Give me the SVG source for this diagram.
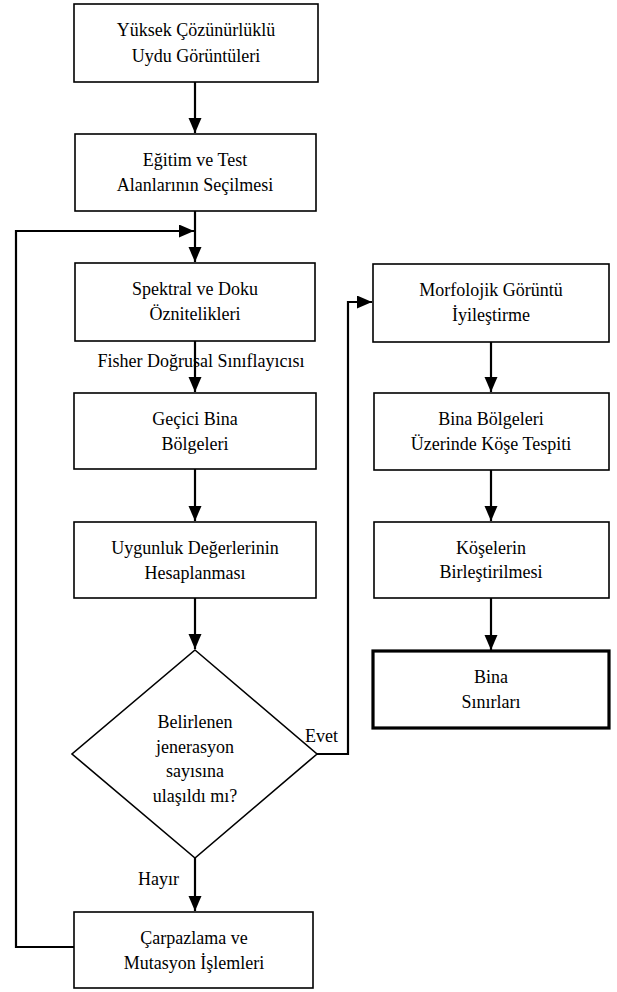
<svg xmlns="http://www.w3.org/2000/svg" width="617" height="992" viewBox="0 0 617 992">
<style>
.box{fill:#fff;stroke:#000;stroke-width:1.6}
.thick{fill:#fff;stroke:#000;stroke-width:3.2}
text{font-family:"Liberation Serif","Times New Roman",serif;font-size:18px;fill:#000}
.t{text-anchor:middle}
.c{fill:none;stroke:#000;stroke-width:2.2}
</style>
<defs>
<marker id="ah" markerUnits="userSpaceOnUse" markerWidth="16" markerHeight="14" refX="15" refY="6.5" orient="auto">
<path d="M0,0 L15,6.5 L0,13 z" fill="#000"/>
</marker>
</defs>
<rect width="617" height="992" fill="#fff"/>
<g id="connectors">
<path class="c" d="M195,82 V133" marker-end="url(#ah)"/>
<path class="c" d="M195,211 V262" marker-end="url(#ah)"/>
<path class="c" d="M74,947 H16 V231 H194" marker-end="url(#ah)"/>
<path class="c" d="M195,341 V392" marker-end="url(#ah)"/>
<path class="c" d="M195,469 V521" marker-end="url(#ah)"/>
<path class="c" d="M195,598 V649" marker-end="url(#ah)"/>
<path class="c" d="M195,858 V911" marker-end="url(#ah)"/>
<path class="c" d="M317,754 H348 V302 H372" marker-end="url(#ah)"/>
<path class="c" d="M491,342 V392" marker-end="url(#ah)"/>
<path class="c" d="M491,470 V521" marker-end="url(#ah)"/>
<path class="c" d="M491,598 V650" marker-end="url(#ah)"/>
<text class="t" x="201" y="367">Fisher Doğrusal Sınıflayıcısı</text>
<text x="305" y="742">Evet</text>
<text x="138" y="885">Hayır</text>
</g>
<g id="n1"><rect class="box" x="74" y="4" width="244" height="78"/><text class="t" x="196" y="36">Yüksek Çözünürlüklü</text><text class="t" x="196" y="62">Uydu Görüntüleri</text></g>
<g id="n2"><rect class="box" x="75" y="134" width="241" height="77"/><text class="t" x="195" y="166">Eğitim ve Test</text><text class="t" x="195" y="191">Alanlarının Seçilmesi</text></g>
<g id="n3"><rect class="box" x="75" y="263" width="240" height="78"/><text class="t" x="195" y="295">Spektral ve Doku</text><text class="t" x="195" y="320">Öznitelikleri</text></g>
<g id="n4"><rect class="box" x="74" y="393" width="242" height="76"/><text class="t" x="195" y="424.5">Geçici Bina</text><text class="t" x="195" y="449.5">Bölgeleri</text></g>
<g id="n5"><rect class="box" x="74" y="522" width="242" height="76"/><text class="t" x="195" y="553.5">Uygunluk Değerlerinin</text><text class="t" x="195" y="578.5">Hesaplanması</text></g>
<g id="n6"><polygon class="box" points="195,650 317,754 195,858 72,754"/><text class="t" x="195" y="728">Belirlenen</text><text class="t" x="195" y="752.7">jenerasyon</text><text class="t" x="195" y="777.4">sayısına</text><text class="t" x="195" y="802">ulaşıldı mı?</text></g>
<g id="n7"><rect class="box" x="74" y="912" width="239" height="76"/><text class="t" x="194" y="943.5">Çarpazlama ve</text><text class="t" x="194" y="968.5">Mutasyon İşlemleri</text></g>
<g id="n8"><rect class="box" x="373" y="264" width="236" height="78"/><text class="t" x="491" y="296">Morfolojik Görüntü</text><text class="t" x="491" y="321">İyileştirme</text></g>
<g id="n9"><rect class="box" x="374" y="393" width="235" height="77"/><text class="t" x="491" y="425">Bina Bölgeleri</text><text class="t" x="491" y="450">Üzerinde Köşe Tespiti</text></g>
<g id="n10"><rect class="box" x="374" y="522" width="235" height="76"/><text class="t" x="491" y="553.5">Köşelerin</text><text class="t" x="491" y="578">Birleştirilmesi</text></g>
<g id="n11"><rect class="thick" x="373" y="651" width="236" height="77"/><text class="t" x="491" y="683">Bina</text><text class="t" x="491" y="708">Sınırları</text></g>
</svg>
